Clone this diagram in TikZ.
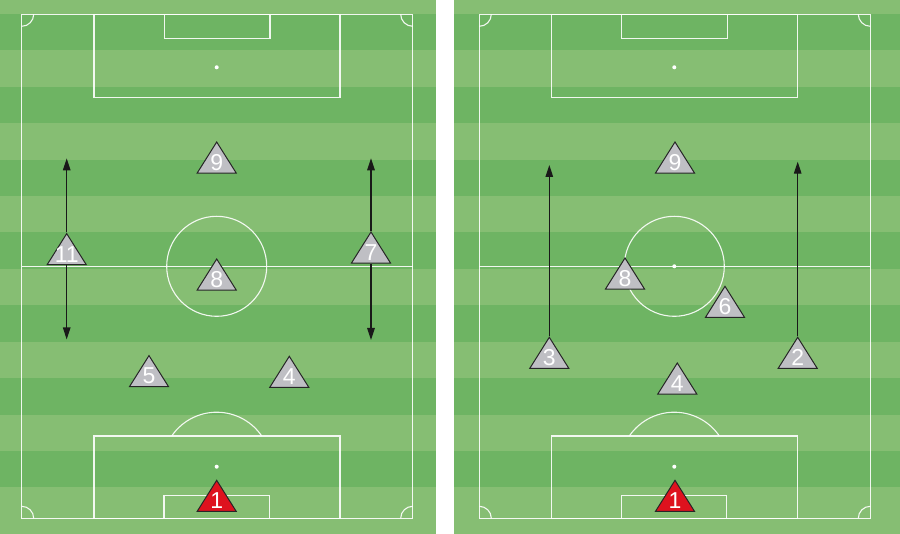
\documentclass[tikz,border=0pt]{standalone}
\usepackage{fontspec}
\newfontfamily\numfont{Liberation Sans}
\usetikzlibrary{shapes.geometric,arrows.meta}

\definecolor{grasslight}{RGB}{134,190,115}
\definecolor{grassdark}{RGB}{110,180,99}
\definecolor{shirtgray}{RGB}{191,191,196}
\definecolor{shirtred}{RGB}{222,18,30}

\def\stripe{36.41}
\def\pitchshift{457.6}
\def\leftteam{{(216.7,140.7)/l9/9}, {(66.7,232.3)/l11/11}, {(371,230.7)/l7/7}, {(216.7,257.7)/l8/8}, {(149,354.3)/l5/5}, {(289.3,355)/l4/4}}
\def\rightteam{{(675,140.7)/r9/9}, {(625,256.7)/r8/8}, {(725,285)/r6/6}, {(549.3,336)/r3/3}, {(797.7,336)/r2/2}, {(677.3,361.7)/r4/4}}
\def\keepers{{(216.7,479)/l1}, {(675,479)/r1}}
\def\runs{l11.north/l11-up, l11.south/l11-down, l7.north/l7-up, l7.south/l7-down, r3.north/r3-up, r2.north/r2-up}
\tikzstyle{chalk}=[draw=white,line width=1.1pt,draw opacity=0.9]
\tikzstyle{spot}=[fill=white]
\tikzstyle{player}=[isosceles triangle,isosceles triangle stretches,shape border rotate=90,minimum width=39pt,minimum height=31pt,inner sep=0pt,draw=black!85,line width=1pt,fill=shirtgray,anchor=north]
\tikzstyle{keeper}=[player,fill=shirtred]
\tikzstyle{number}=[font=\numfont\fontsize{23}{23}\selectfont,text=white,inner sep=0pt]
\tikzstyle{run}=[draw=black!90,line width=1.3pt,-{Triangle[length=12pt,width=7.5pt]}]

\begin{document}
\begin{tikzpicture}[x=1pt,y=-1pt]
  \useasboundingbox (0,0) rectangle (900,534);

  % The grass with its stripes
  \fill[white] (0,0) rectangle (900,534);
  \fill[grasslight] (0,0) rectangle (436,534);
  \fill[grasslight] (454,0) rectangle (900,534);
  \foreach \k in {0,...,6} {
    \fill[grassdark] (0,{14+2*\stripe*\k}) rectangle (436,{14+2*\stripe*\k+\stripe});
    \fill[grassdark] (454,{14+2*\stripe*\k}) rectangle (900,{14+2*\stripe*\k+\stripe});
  }

  % Markings, the same on both pitches
  \foreach \dx in {0,\pitchshift} {
    \begin{scope}[xshift=\dx]
      \path[chalk] (21.7,14.3) rectangle (412.7,518.3);
      \path[chalk] (21.7,266.3) -- (412.7,266.3);
      \path[chalk] (216.7,266.3) circle (50);
      \path[chalk] (94,14.3) rectangle (340,97.7);
      \path[chalk] (164.3,14.3) rectangle (270,38.3);
      \path[chalk] (94,436) rectangle (340,518.3);
      \path[chalk] (164,495.7) rectangle (269.3,518.3);
      \path[chalk] (171.7,436) arc[start angle=214.3,end angle=325.7,radius=54.5];
      \path[chalk] (33.7,14.3) arc[start angle=0,end angle=90,radius=12];
      \path[chalk] (412.7,26.3) arc[start angle=90,end angle=180,radius=12];
      \path[chalk] (21.7,506.3) arc[start angle=270,end angle=360,radius=12];
      \path[chalk] (400.7,518.3) arc[start angle=180,end angle=270,radius=12];
      \foreach \y in {67.3,266.3,466.7}
        \path[spot] (216.7,\y) circle (2);
    \end{scope}
  }

  % Players
  \foreach \pos/\name/\num in \leftteam {
    \node[player] (\name) at \pos {};
    \node[number] (\name-num) at ([yshift=11pt]\name.south) {\num};
  }

  \foreach \pos/\name/\num in \rightteam {
    \node[player] (\name) at \pos {};
    \node[number] (\name-num) at ([yshift=11pt]\name.south) {\num};
  }

  \foreach \pos/\name in \keepers {
    \node[keeper] (\name) at \pos {};
    \node[number] (\name-num) at ([yshift=11pt]\name.south) {1};
  }

  % Runs
  \coordinate (l11-up) at (66.7,158.3);
  \coordinate (l11-down) at (66.7,339.5);
  \coordinate (l7-up) at (371,158.3);
  \coordinate (l7-down) at (371,340);
  \coordinate (r3-up) at (549.3,165);
  \coordinate (r2-up) at (797.7,161.7);
  \foreach \source/\dest in \runs
    \path[run] (\source) -- (\dest);
\end{tikzpicture}
\end{document}
